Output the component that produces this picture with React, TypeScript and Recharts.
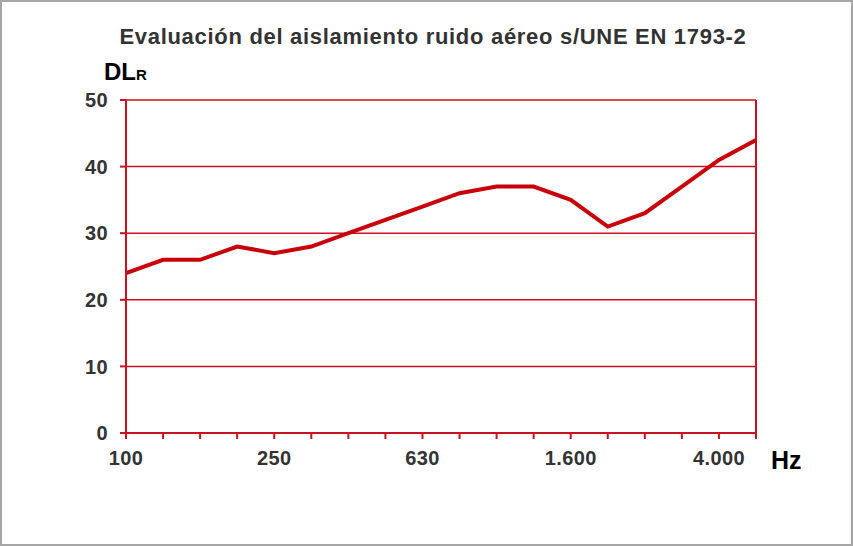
import React from 'react';
import { LineChart, Line, XAxis, YAxis, CartesianGrid, ReferenceLine } from 'recharts';

// tercios de octava, 100 Hz - 5000 Hz
const bands = ['100', '125', '160', '200', '250', '315', '400', '500', '630', '800', '1000', '1250', '1600', '2000', '2500', '3150', '4000', '5000'];
const dlr = [24, 26, 26, 28, 27, 28, 30, 32, 34, 36, 37, 37, 35, 31, 33, 37, 41, 44];
const labeledBands = ['100', '250', '630', '1600', '4000'];
const yTicks = [0, 10, 20, 30, 40, 50];

const data = bands.map((b, i) => ({ band: b, dlr: dlr[i] }));

const RED = '#c8000a';
const GRID = '#cc1020';
const FONT = '"Liberation Sans", Arial, sans-serif';

function formatBand(v: string): string {
  if (!labeledBands.includes(v)) return '';
  const n = Number(v);
  // separador de miles con punto
  return n >= 1000 ? `${Math.floor(n / 1000)}.${String(n % 1000).padStart(3, '0')}` : String(n);
}

const Y_W = 60;
const X_H = 40;

const tickStyle = { fill: '#333', fontSize: 20, fontWeight: 700, fontFamily: FONT, letterSpacing: 0.4 };

export default function App() {
  return (
    <div style={{ position: 'absolute', left: 0, top: 0, width: 853, height: 546, background: '#fff', fontFamily: FONT }}>
      <LineChart
        width={853}
        height={546}
        data={data}
        margin={{ top: 100, right: 97, left: 126 - Y_W, bottom: 113 - X_H }}
      >
        <CartesianGrid vertical={false} stroke={GRID} strokeWidth={1.5} />
        <XAxis
          dataKey="band"
          interval={0}
          height={X_H}
          tickFormatter={formatBand}
          tick={tickStyle}
          axisLine={{ stroke: GRID, strokeWidth: 2 }}
          tickLine={{ stroke: GRID, strokeWidth: 2 }}
          tickSize={6}
          tickMargin={12}
        />
        <YAxis
          domain={[0, 50]}
          ticks={yTicks}
          width={Y_W}
          tick={tickStyle}
          axisLine={{ stroke: GRID, strokeWidth: 2 }}
          tickLine={{ stroke: GRID, strokeWidth: 2 }}
          tickSize={6}
          tickMargin={12}
        />
        <ReferenceLine x="5000" stroke={GRID} strokeWidth={2} />
        <Line
          type="linear"
          dataKey="dlr"
          stroke={RED}
          strokeWidth={4}
          dot={false}
          isAnimationActive={false}
        />
      </LineChart>
      <div style={{ position: 'absolute', left: 0, width: 866, top: 24, textAlign: 'center', fontSize: 22, fontWeight: 700, color: '#333', letterSpacing: 0.7, whiteSpace: 'nowrap' }}>
        Evaluación del aislamiento ruido aéreo s/UNE EN 1793-2
      </div>
      <div style={{ position: 'absolute', left: 104, top: 58, fontSize: 24, fontWeight: 700, color: '#000', whiteSpace: 'nowrap' }}>
        DL<span style={{ fontSize: 15 }}>R</span>
      </div>
      <div style={{ position: 'absolute', left: 771, top: 446, fontSize: 25, fontWeight: 700, color: '#000' }}>
        Hz
      </div>
      <div style={{ position: 'absolute', left: 0, top: 0, width: 853, height: 546, boxSizing: 'border-box', border: '2px solid #a6a6a6', pointerEvents: 'none' }} />
    </div>
  );
}
